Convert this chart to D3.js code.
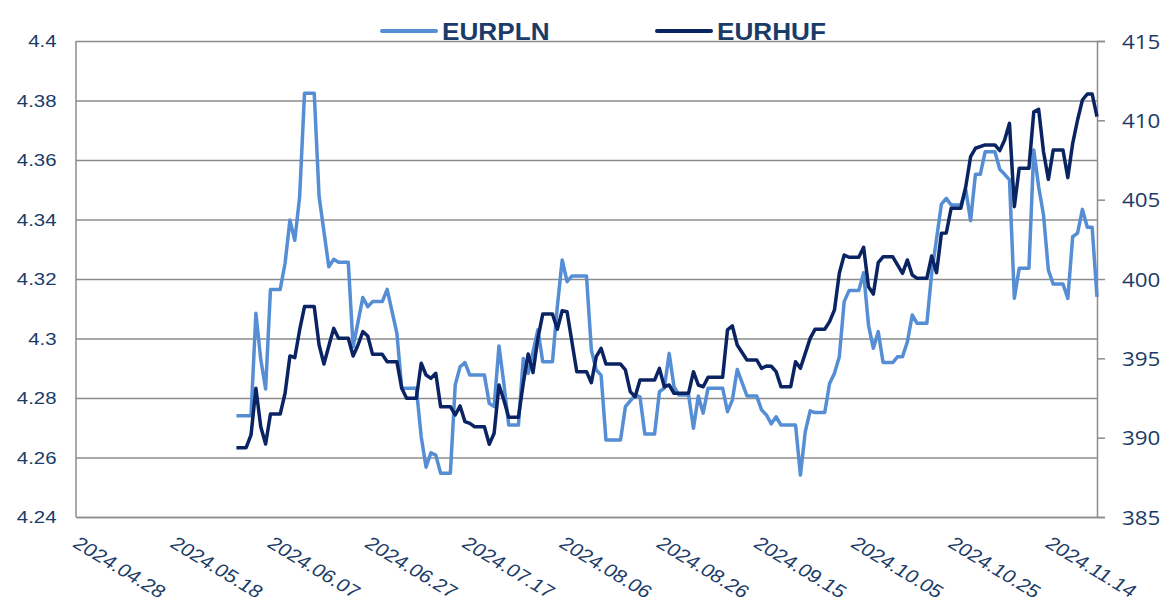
<!DOCTYPE html>
<html>
<head>
<meta charset="utf-8">
<script src="https://cdn.jsdelivr.net/npm/d3@7"></script>
<style>
  body { margin: 0; background: #fff; }
  text { font-family: "Liberation Sans", Arial, sans-serif; }
</style>
</head>
<body>
<div id="wrapper"></div>
<script>
// tick labels
const xTickLabels = ["2024.04.28","2024.05.18","2024.06.07","2024.06.27","2024.07.17","2024.08.06",
  "2024.08.26","2024.09.15","2024.10.05","2024.10.25","2024.11.14"];
const leftTicks = [4.24, 4.26, 4.28, 4.3, 4.32, 4.34, 4.36, 4.38, 4.4];
const rightTicks = [385, 390, 395, 400, 405, 410, 415];

// EURPLN (left axis)
const plnDates = [
  "05-31","06-03","06-04","06-05","06-06","06-07","06-09","06-10","06-11","06-12","06-13","06-14","06-16","06-17","06-19","06-20","06-21","06-23","06-24","06-26","06-27","06-28","06-30",
  "07-01","07-03","07-04","07-07","07-08","07-09","07-10","07-11","07-12","07-14","07-15","07-16","07-17","07-18","07-21","07-22","07-23","07-24","07-25","07-26","07-28","07-29","07-30",
  "08-01","08-02","08-04","08-05","08-06","08-07","08-08","08-11","08-12","08-13","08-14","08-15","08-18","08-19","08-21","08-22","08-23","08-25","08-26","08-27","08-28","08-29","08-30",
  "09-01","09-02","09-03","09-04","09-05","09-08","09-09","09-10","09-11","09-13","09-15","09-16","09-17","09-18","09-19","09-20","09-23","09-24","09-25","09-26","09-27","09-29","09-30",
  "10-01","10-02","10-03","10-04","10-06","10-07","10-08","10-09","10-10","10-11","10-13","10-14","10-15","10-16","10-17","10-18","10-20","10-21","10-23","10-24","10-25","10-27","10-28","10-29","10-30","10-31",
  "11-01","11-03","11-04","11-05","11-06","11-07","11-08","11-10","11-11","11-12","11-13","11-14","11-15","11-17","11-18","11-19","11-20","11-21","11-22","11-23","11-24"];
const plnValues = [
  4.274,4.274,4.3085,4.293,4.283,4.3165,4.3165,4.3253,4.3398,4.333,4.3477,4.3824,4.3824,4.3477,4.3241,4.3266,4.3256,4.3256,4.2972,4.3138,4.3107,4.3124,4.3124,
  4.3165,4.3017,4.2833,4.2833,4.267,4.2567,4.2616,4.2608,4.2547,4.2547,4.2844,4.2905,4.2919,4.2877,4.2877,4.2782,4.2771,4.2975,4.2849,4.2709,4.2709,4.2933,4.2883,
  4.3029,4.2922,4.2922,4.3107,4.3264,4.3191,4.321,4.321,4.2961,4.2894,4.2877,4.2659,4.2659,4.2771,4.281,4.2804,4.2679,4.2679,4.2821,4.2833,4.295,4.2838,4.281,
  4.281,4.2698,4.2807,4.2749,4.2833,4.2833,4.2754,4.2793,4.2896,4.2807,4.2807,4.276,4.2743,4.2713,4.2737,4.2709,4.2709,4.2541,4.2687,4.2757,4.2751,4.2751,4.2849,
  4.2883,4.2939,4.3124,4.3161,4.3161,4.3221,4.3045,4.2967,4.3023,4.2919,4.2919,4.2939,4.2939,4.2989,4.3079,4.3051,4.3051,4.3219,4.3452,4.3471,4.3449,4.3449,4.3501,4.3396,4.3552,4.3552,
  4.3628,4.3628,4.3569,4.3552,4.3533,4.3135,4.3236,4.3236,4.3634,4.351,4.3415,4.323,4.3183,4.3183,4.3135,4.3342,4.3354,4.3434,4.3374,4.3374,4.314];

// EURHUF (right axis)
const hufDates = [
  "05-31","06-02","06-03","06-04","06-05","06-06","06-07","06-09","06-10","06-11","06-12","06-13","06-14","06-16","06-17","06-18","06-19","06-20","06-21","06-23","06-24","06-25","06-26","06-27","06-28","06-30",
  "07-01","07-03","07-04","07-05","07-07","07-08","07-09","07-10","07-11","07-12","07-14","07-15","07-16","07-17","07-18","07-19","07-21","07-22","07-23","07-24","07-25","07-26","07-28","07-29","07-30","07-31",
  "08-01","08-02","08-04","08-05","08-06","08-07","08-09","08-11","08-12","08-13","08-14","08-15","08-18","08-19","08-20","08-21","08-22","08-25","08-26","08-27","08-28","08-29",
  "09-01","09-02","09-03","09-04","09-05","09-08","09-09","09-10","09-11","09-13","09-15","09-16","09-17","09-18","09-19","09-20","09-22","09-23","09-24","09-26","09-27","09-29","09-30",
  "10-01","10-02","10-03","10-04","10-06","10-07","10-08","10-09","10-10","10-11","10-13","10-15","10-16","10-17","10-18","10-20","10-21","10-22","10-23","10-24","10-25","10-27","10-28","10-29","10-30",
  "11-01","11-03","11-04","11-05","11-06","11-07","11-08","11-10","11-11","11-12","11-13","11-14","11-15","11-17","11-18","11-19","11-20","11-21","11-22","11-23","11-24"];
const hufValues = [
  389.37,389.37,390.17,393.11,390.69,389.6,391.49,391.49,392.8,395.15,395.04,396.79,398.26,398.26,395.84,394.64,395.78,396.89,396.26,396.26,395.15,395.84,396.68,396.41,395.25,395.25,
  394.79,394.79,393.11,392.48,392.48,394.69,393.95,393.74,394.06,391.95,391.95,391.43,392.0,391.01,390.9,390.69,390.69,389.58,390.28,393.32,392.37,391.28,391.28,393.43,395.27,394.1,
  396.26,397.79,397.79,396.83,398.0,397.94,394.16,394.16,393.46,395.1,395.63,394.64,394.64,394.27,392.9,392.58,393.63,393.63,394.37,393.21,393.32,392.8,
  392.8,394.16,393.32,393.21,393.8,393.8,396.79,397.04,395.84,394.9,394.9,394.37,394.52,394.5,394.16,393.21,393.21,394.79,394.37,396.26,396.83,396.83,397.31,
  398.05,400.36,401.51,401.37,401.37,402.0,399.51,399.05,401.03,401.4,401.4,400.36,401.2,400.25,400.04,400.04,401.45,400.4,402.88,402.9,404.46,404.46,405.82,407.71,408.24,
  408.45,408.45,408.09,408.76,409.81,404.56,406.98,406.98,410.54,410.69,408.02,406.28,408.13,408.13,406.39,408.55,410.02,411.28,411.66,411.66,410.23];

const textColor = "#1b3b68";
const gridColor = "#8c8c8c";
const plnColor = "#558ed5";
const hufColor = "#0a2362";

const dimension = {
  width: 1167,
  height: 606,
  margin: { top: 41, right: 70, bottom: 89, left: 76 },
};
dimension.boundedWidth = dimension.width - dimension.margin.left - dimension.margin.right;
dimension.boundedHeight = dimension.height - dimension.margin.top - dimension.margin.bottom;

const parseDay = d3.timeParse("%Y-%m-%d");
const parseTick = d3.timeParse("%Y.%m.%d");

const pln = plnDates.map((d, i) => ({ date: parseDay("2024-" + d), value: plnValues[i] }));
const huf = hufDates.map((d, i) => ({ date: parseDay("2024-" + d), value: hufValues[i] }));

const x = d3.scaleTime()
  .domain([parseDay("2024-04-28"), parseDay("2024-11-24")])
  .range([0, dimension.boundedWidth]);
const yLeft = d3.scaleLinear().domain([4.24, 4.4]).range([dimension.boundedHeight, 0]);
const yRight = d3.scaleLinear().domain([385, 415]).range([dimension.boundedHeight, 0]);

const wrapper = d3.select("#wrapper")
  .append("svg")
  .attr("width", dimension.width)
  .attr("height", dimension.height);

const bounds = wrapper.append("g")
  .attr("transform", `translate(${dimension.margin.left},${dimension.margin.top})`);

// horizontal gridlines
const grid = bounds.append("g")
  .call(d3.axisLeft(yLeft).tickValues(leftTicks).tickSize(-dimension.boundedWidth).tickFormat(""));
grid.select(".domain").remove();
grid.selectAll("line").attr("stroke", gridColor).attr("stroke-width", 1.5);

// left labels
const leftAxis = bounds.append("g")
  .call(d3.axisLeft(yLeft).tickValues(leftTicks).tickSize(0).tickFormat(d3.format("")));
leftAxis.select(".domain").remove();
leftAxis.selectAll("text")
  .attr("x", null).attr("dy", "0.35em")
  .attr("transform", "translate(-19.5,0) scale(1.2,1)")
  .style("font-size", "17px")
  .attr("fill", textColor);

// axis frame lines
bounds.append("line")
  .attr("x1", 0).attr("x2", 0).attr("y1", 0).attr("y2", dimension.boundedHeight)
  .attr("stroke", gridColor).attr("stroke-width", 1.5);

// right axis
const rightAxis = bounds.append("g")
  .attr("transform", `translate(${dimension.boundedWidth},0)`)
  .call(d3.axisRight(yRight).tickValues(rightTicks).tickSize(8).tickFormat(d3.format("d")));
rightAxis.select(".domain").attr("stroke", gridColor).attr("stroke-width", 1.5);
rightAxis.selectAll("line").attr("stroke", gridColor).attr("stroke-width", 1.5);
rightAxis.selectAll("text")
  .attr("x", null).attr("dy", "0.36em")
  .attr("transform", "translate(25,0) scale(1.12,1)")
  .style("font-family", "'Open Sans', sans-serif")
  .style("font-size", "20px")
  .attr("fill", textColor);

// bottom axis
const bottomAxis = bounds.append("g")
  .attr("transform", `translate(0,${dimension.boundedHeight})`)
  .call(d3.axisBottom(x).tickValues(xTickLabels.map(parseTick)).tickSize(0).tickFormat(d3.timeFormat("%Y.%m.%d")));
bottomAxis.select(".domain").attr("stroke", gridColor).attr("stroke-width", 1.5);
bottomAxis.selectAll("text")
  .attr("y", null).attr("dy", null)
  .style("text-anchor", "start")
  .attr("transform", "translate(-5,29) scale(1.2,1) rotate(36)")
  .style("font-size", "18px")
  .attr("fill", textColor);

// lines
const linePln = d3.line().x((d) => x(d.date)).y((d) => yLeft(d.value));
const lineHuf = d3.line().x((d) => x(d.date)).y((d) => yRight(d.value));

bounds.append("path")
  .datum(pln)
  .attr("d", linePln)
  .attr("fill", "none")
  .attr("stroke", plnColor)
  .attr("stroke-width", 3.5)
  .attr("stroke-linejoin", "round");

bounds.append("path")
  .datum(huf)
  .attr("d", lineHuf)
  .attr("fill", "none")
  .attr("stroke", hufColor)
  .attr("stroke-width", 3.5)
  .attr("stroke-linejoin", "round");

// legend
const legendItems = [
  { name: "EURPLN", color: plnColor, x: 382 },
  { name: "EURHUF", color: hufColor, x: 657 },
];
const legend = wrapper.append("g")
  .selectAll("g")
  .data(legendItems)
  .enter()
  .append("g")
  .attr("transform", (d) => `translate(${d.x},31)`);
legend.append("line")
  .attr("x1", 0).attr("x2", 54).attr("y1", 0).attr("y2", 0)
  .attr("stroke", (d) => d.color)
  .attr("stroke-width", 4)
  .attr("stroke-linecap", "round");
legend.append("text")
  .attr("transform", "translate(60,8.5) scale(1.09,1)")
  .style("font-size", "24px")
  .style("font-weight", "bold")
  .attr("fill", textColor)
  .text((d) => d.name);
</script>
</body>
</html>
